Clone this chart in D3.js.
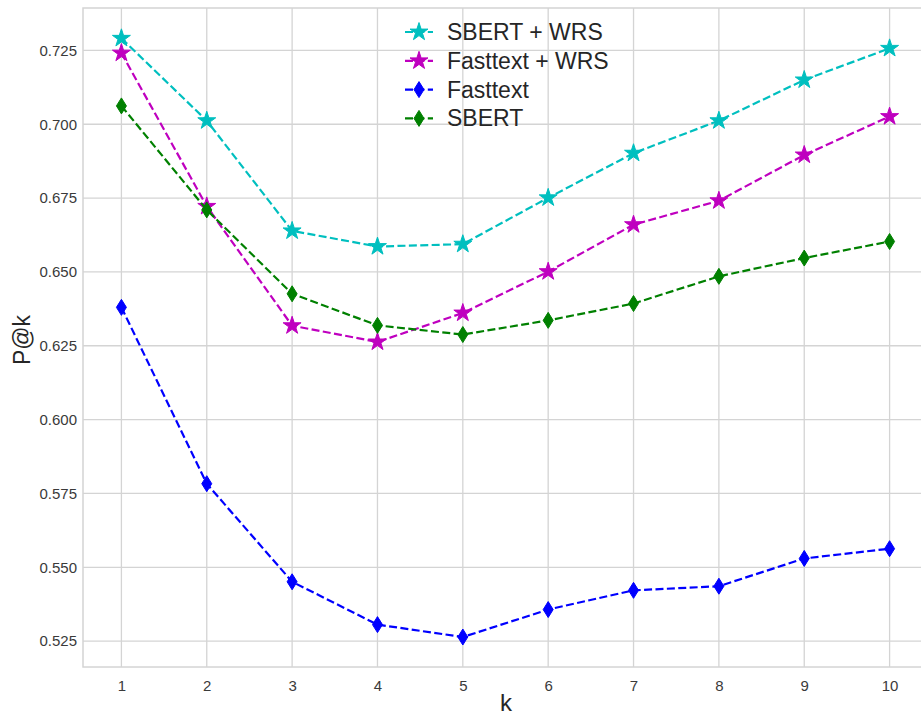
<!DOCTYPE html>
<html>
<head>
<meta charset="utf-8">
<script src="https://cdn.jsdelivr.net/npm/d3@7"></script>
<style>
  body { margin: 0; background: #fff; }
  text { font-family: "Liberation Sans", Arial, sans-serif; }
</style>
</head>
<body>
<script>
"use strict";

// data
let ks = [1, 2, 3, 4, 5, 6, 7, 8, 9, 10];
let sbertWrs = [0.7291, 0.7012, 0.6639, 0.6586, 0.6594, 0.6751, 0.6902, 0.7012, 0.7150, 0.7257];
let fasttextWrs = [0.7241, 0.6722, 0.6318, 0.6263, 0.6361, 0.6501, 0.6660, 0.6741, 0.6896, 0.7026];
let fasttext = [0.6380, 0.5783, 0.5451, 0.5306, 0.5264, 0.5357, 0.5422, 0.5436, 0.5530, 0.5563];
let sbert = [0.7062, 0.6710, 0.6426, 0.6319, 0.6288, 0.6336, 0.6393, 0.6485, 0.6547, 0.6603];
let yTicks = [0.525, 0.550, 0.575, 0.600, 0.625, 0.650, 0.675, 0.700, 0.725];

let series = [
    { name: "SBERT + WRS", values: sbertWrs, color: "#00bfbf", marker: "star" },
    { name: "Fasttext + WRS", values: fasttextWrs, color: "#bf00bf", marker: "star" },
    { name: "Fasttext", values: fasttext, color: "#0000ff", marker: "diamond" },
    { name: "SBERT", values: sbert, color: "#008000", marker: "diamond" }
];

function draw() {
    let width = 921,
        height = 715,
        plotLeft = 83,
        plotTop = 8,
        plotBottom = 667,
        plotRight = 928;

    let svg = d3.select("body")
        .append("svg")
        .attr("width", width)
        .attr("height", height);

    let x = d3.scaleLinear().domain([0.55, 10.45]).range([plotLeft, plotRight]);
    let y = d3.scaleLinear().domain([0.51625, 0.73935]).range([plotBottom, plotTop]);

    // grid
    let grid = svg.append("g");
    grid.selectAll("line.v")
        .data(ks)
        .enter().append("line")
        .attr("x1", d => x(d)).attr("x2", d => x(d))
        .attr("y1", plotTop).attr("y2", plotBottom)
        .attr("stroke", "#d4d4d4").attr("stroke-width", 1.3);
    grid.selectAll("line.h")
        .data(yTicks)
        .enter().append("line")
        .attr("y1", d => y(d)).attr("y2", d => y(d))
        .attr("x1", plotLeft).attr("x2", plotRight)
        .attr("stroke", "#d4d4d4").attr("stroke-width", 1.3);

    // frame
    svg.append("rect")
        .attr("x", plotLeft).attr("y", plotTop)
        .attr("width", plotRight - plotLeft).attr("height", plotBottom - plotTop)
        .attr("fill", "none")
        .attr("stroke", "#d4d4d4").attr("stroke-width", 1.5);

    // axes
    let xAxis = svg.append("g")
        .attr("transform", "translate(0," + plotBottom + ")")
        .call(d3.axisBottom(x).tickValues(ks).tickSize(0).tickPadding(13));
    let yAxis = svg.append("g")
        .attr("transform", "translate(" + plotLeft + ",0)")
        .call(d3.axisLeft(y).tickValues(yTicks).tickFormat(d3.format(".3f")).tickSize(0).tickPadding(6));
    [xAxis, yAxis].forEach(function (a) {
        a.select(".domain").remove();
        a.selectAll("text")
            .attr("fill", "#3a3a3a")
            .style("font-size", "15px")
            .style("font-family", "'Liberation Sans', Arial, sans-serif");
    });

    svg.append("text")
        .attr("x", 506).attr("y", 711)
        .attr("text-anchor", "middle")
        .attr("fill", "#262626")
        .style("font-size", "24px")
        .text("k");

    svg.append("text")
        .attr("transform", "translate(30,340) rotate(-90)")
        .attr("text-anchor", "middle")
        .attr("fill", "#262626")
        .style("font-size", "23px")
        .text("P@k");

    // markers
    let starPath = d3.symbol().type(d3.symbolStar).size(100)();
    let diamondPath = "M0,-8L5,0L0,8L-5,0Z";

    function markerPath(m) {
        return m === "star" ? starPath : diamondPath;
    }

    let line = d3.line()
        .x((d, i) => x(ks[i]))
        .y(d => y(d));

    let plot = svg.append("g");

    series.forEach(function (s) {
        plot.append("path")
            .datum(s.values)
            .attr("d", line)
            .attr("fill", "none")
            .attr("stroke", s.color)
            .attr("stroke-width", 2.2)
            .attr("stroke-dasharray", "8,3.4");

        plot.selectAll(null)
            .data(s.values)
            .enter().append("path")
            .attr("d", markerPath(s.marker))
            .attr("transform", (d, i) => "translate(" + x(ks[i]) + "," + y(d) + ")")
            .attr("fill", s.color)
            .attr("stroke", s.color)
            .attr("stroke-width", 1);
    });

    // legend
    let legend = svg.append("g");
    series.forEach(function (s, i) {
        let ly = 32 + i * 28.8;
        legend.append("line")
            .attr("x1", 405).attr("x2", 433)
            .attr("y1", ly).attr("y2", ly)
            .attr("stroke", s.color)
            .attr("stroke-width", 2.2)
            .attr("stroke-dasharray", "8,3.4");
        legend.append("path")
            .attr("d", markerPath(s.marker))
            .attr("transform", "translate(419," + ly + ")")
            .attr("fill", s.color)
            .attr("stroke", s.color)
            .attr("stroke-width", 1);
        legend.append("text")
            .attr("x", 447).attr("y", ly)
            .attr("dy", "0.35em")
            .attr("fill", "#262626")
            .style("font-size", "23px")
            .text(s.name);
    });
}

draw();
</script>
</body>
</html>
